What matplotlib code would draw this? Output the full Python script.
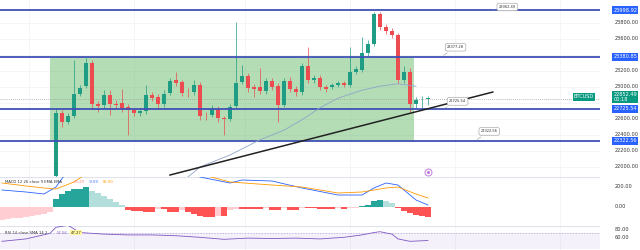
import matplotlib.pyplot as plt
import numpy as np

# candles (price), one per bar index starting at 0
opens = [21888, 22675, 22563, 22638, 22913, 23013, 23300, 22788, 22775, 22900,
         22788, 22800, 22750, 22713, 22675, 22700, 22900, 22875, 22788, 22925,
         23088, 23063, 22925, 22938, 23025, 22656, 22650, 22725, 22613, 22600,
         22763, 23063, 23138, 23000, 23000, 22950, 23075, 23013, 22775, 23075,
         22975, 22938, 23263, 23088, 23113, 23000, 23000, 23025, 23050, 23025,
         23188, 23213, 23425, 23538, 23913, 23750, 23700, 23650, 23088, 23188,
         22788, 22850, 22850]
closes = [22675, 22563, 22638, 22913, 22988, 23300, 22788, 22763, 22900, 22788,
          22775, 22725, 22713, 22675, 22700, 22900, 22863, 22788, 22913, 23075,
          23050, 22925, 22919, 23025, 22638, 22650, 22725, 22613, 22600, 22750,
          23050, 23138, 22988, 22975, 22950, 23075, 23000, 22775, 23075, 22975,
          22938, 23263, 23088, 23113, 23000, 22975, 23025, 23050, 23025, 23188,
          23225, 23425, 23538, 23913, 23750, 23700, 23650, 23088, 23188, 22788,
          22838, 22852, 22863]
highs = [22738, 22713, 22675, 23338, 23025, 23363, 23338, 22825, 22963, 22963,
         22838, 22975, 22788, 22738, 22725, 23025, 22938, 22913, 22963, 23113,
         23188, 23088, 22988, 23088, 23063, 22688, 22775, 22763, 22638, 22788,
         23813, 23275, 23175, 23038, 23238, 23113, 23113, 23050, 23113, 23125,
         23013, 23300, 23500, 23150, 23150, 23025, 23050, 23075, 23075, 23500,
         23263, 23625, 23588, 23938, 23938, 23788, 23738, 23675, 23263, 23238,
         22875, 22888, 22888]
lows = [21860, 22500, 22538, 22613, 22888, 22988, 22738, 22688, 22738, 22650,
        22738, 22688, 22400, 22638, 22638, 22663, 22825, 22738, 22750, 22900,
        23013, 22888, 22875, 22900, 22588, 22588, 22625, 22563, 22400, 22575,
        22738, 23038, 22938, 22875, 22913, 22913, 22963, 22563, 22750, 22938,
        22888, 22900, 23050, 23050, 22963, 22938, 22975, 23000, 23000, 23000,
        23163, 23188, 23388, 23513, 23713, 23663, 23613, 23050, 23050, 22688,
        22738, 22738, 22775]

levels = [23960, 23377, 22725, 22325]
level_labels = ["23998.92", "23380.85", "22725.54", "22322.56"]
callout_text = ["23962.49", "23377.28", "22725.54", "22322.56"]
callout_at = [72.8, 64.2, 64.5, 69.8]
callout_rise = [15, 95, 70, 95]
last_price = 22852.49
price_ticks = [23800, 23600, 23200, 23000, 22600, 22400, 22200, 22000]

zone_x = [-1, 59.6]
zone_y = [22325, 23377]
trend_x = [19, 72.8]
trend_y = [21900, 22937]
ma_x = [22, 24, 29, 34, 38, 41, 44, 47, 51, 54, 57, 60]
ma_y = [21875, 22000, 22150, 22340, 22460, 22590, 22740, 22860, 22960, 23010, 23040, 23010]

hist_x = list(range(-9, 63))
hist_v = [-130, -120, -112, -105, -98, -90, -80, -70, -50,
          80, 130, 160, 180, 180, 200, 160, 140, 110, 80, 50, 20,
          -30, -40, -40, -50, -50, -20, -20, -50, -50, -30, -50,
          -70, -90, -100, -100, -90, -90, -30, -20, -20, -20, -20,
          -20, -10, -30, -30, -10, -30, -30, -10, -10, -10, -20,
          -20, -20, -10, -20, -10, -5, 10, 20, 60, 70, 60, 40,
          -10, -40, -60, -80, -90, -100]
macd_x = [-9, -5, -2, 0, 3, 8, 15, 20, 24, 29, 31, 36, 41, 47, 51, 53, 55, 57, 60, 62]
macd_v = [170, 150, 130, 200, 450, 600, 500, 380, 300, 240, 270, 260, 190, 120, 120, 190, 240, 220, 70, 20]
sig_x = [-9, -5, -2, 0, 3, 8, 15, 20, 24, 29, 36, 41, 47, 51, 55, 57, 60, 62]
sig_v = [240, 210, 190, 180, 250, 450, 520, 420, 330, 250, 220, 200, 140, 150, 190, 200, 130, 90]
rsi_x = [-9, -5, -1, 0, 2, 4, 8, 12, 16, 20, 24, 28, 32, 36, 40, 44, 48, 51, 53, 54, 56, 57, 59, 62]
rsi_v = [50, 56, 70, 85, 90, 72, 68, 66, 66, 64, 60, 55, 58, 57, 58, 56, 60, 66, 72, 74, 68, 56, 50, 52]

GREEN = "#1e9c84"
RED = "#ec4b4f"
BLUE = "#3f51b5"
AXBLUE = "#2962ff"
GRID = "#f2f4f8"

fig = plt.figure(figsize=(6.4, 2.5), dpi=100)
ax = fig.add_axes([0, 0.292, 0.9375, 0.708])
axm = fig.add_axes([0, 0.096, 0.9375, 0.196], sharex=ax)
axr = fig.add_axes([0, 0.0, 0.9375, 0.096], sharex=ax)

for a in (ax, axm, axr):
    a.set_xticks([])
    a.set_yticks([])
    for s in a.spines.values():
        s.set_visible(False)
    for gx in [-4.5, 13, 31.5, 49, 66.5, 84]:
        a.axvline(gx, color=GRID, lw=0.6, zorder=0)
ax.set_xlim(-9.33, 90.67)
ax.set_ylim(21875, 24087.5)
for p in price_ticks + [23400, 22800]:
    ax.axhline(p, color=GRID, lw=0.6, zorder=0)

# zone
ax.fill_between(zone_x, zone_y[0], zone_y[1], color="#4caf50", alpha=0.42, lw=0, zorder=1)

# candles
idx = np.arange(len(opens))
for i in idx:
    o, c, h, l = opens[i], closes[i], highs[i], lows[i]
    col = GREEN if c >= o else RED
    ax.vlines(i, l, h, color=col, lw=0.5, zorder=3)
    ax.bar(i, max(abs(c - o), 6), bottom=min(o, c), width=0.7, color=col, lw=0, zorder=3)

# levels
for lv in levels:
    ax.axhline(lv, color=BLUE, lw=1.3, zorder=4)
ax.axhline(last_price, color="#9aa0a6", lw=0.6, ls=(0, (1, 1.5)), zorder=2)
ax.plot(ma_x, ma_y, color="#90a4c8", lw=0.6, zorder=4)
ax.plot(trend_x, trend_y, color="#222222", lw=1.1, zorder=5, clip_on=False)

for lv, t, cx, dy in zip(levels, callout_text, callout_at, callout_rise):
    ax.annotate(t, xy=(cx, lv), xytext=(cx + 1.0, lv + dy), fontsize=2.6, color="#333333",
                ha="left", va="bottom",
                bbox=dict(boxstyle="round,pad=0.5", fc="white", ec="#999999", lw=0.4),
                arrowprops=dict(arrowstyle="-", color="#999999", lw=0.4), zorder=6,
                annotation_clip=False)

# alert marker
ax.plot(62.0, 21937, marker="o", ms=5, mfc="none", mec="#c27ad8", mew=0.7, zorder=6)
ax.plot(62.0, 21937, marker="o", ms=1.2, color="#c27ad8", zorder=6)

# right price scale
ytr = ax.get_yaxis_transform()
for p in price_ticks:
    ax.text(1.025, p, f"{p:.2f}", transform=ytr, fontsize=3.6, color="#333333", va="center", ha="left")
for lv, t in zip(levels, level_labels):
    ax.text(1.022, lv, t, transform=ytr, fontsize=3.6, color="white", va="center", ha="left",
            bbox=dict(boxstyle="square,pad=0.25", fc=AXBLUE, ec="none"))
ax.text(1.022, last_price + 25, f"{last_price:.2f}\n00:18", transform=ytr, fontsize=3.6, color="white",
        va="center", ha="left", linespacing=1.0,
        bbox=dict(boxstyle="square,pad=0.25", fc="#089981", ec="none"))
ax.text(0.99, last_price + 25, "BTCUSD", transform=ytr, fontsize=3.6, color="white", va="center", ha="right",
        bbox=dict(boxstyle="square,pad=0.25", fc="#089981", ec="none"))

# MACD pane
axm.set_ylim(-190, 300)
hcols = []
for k, v in enumerate(hist_v):
    prev = hist_v[k - 1] if k > 0 else v - 1
    if v >= 0:
        hcols.append("#26a69a" if v >= prev else "#b2dfdb")
    else:
        hcols.append("#ff5252" if v <= prev else "#ffcdd2")
axm.bar(hist_x, hist_v, width=1.0, color=hcols, lw=0, zorder=2)
axm.plot(macd_x, macd_v, color="#2962ff", lw=0.6, zorder=3)
axm.plot(sig_x, sig_v, color="#ff9800", lw=0.6, zorder=3)
axm.axhline(300, color="#e0e3eb", lw=0.8)
mtr = axm.get_yaxis_transform()
for p in [200, 0]:
    axm.text(1.025, p, f"{p:.2f}", transform=mtr, fontsize=3.6, color="#333333", va="center", ha="left")
axm.text(0.009, 0.9, "MACD 12 26 close 9 EMA EMA", transform=axm.transAxes, fontsize=2.7,
         color="#333333", va="center")
axm.text(0.122, 0.9, "-95.49", transform=axm.transAxes, fontsize=2.7, color="#ff8a80", va="center")
axm.text(0.148, 0.9, "-9.59", transform=axm.transAxes, fontsize=2.7, color="#2962ff", va="center")
axm.text(0.171, 0.9, "85.90", transform=axm.transAxes, fontsize=2.7, color="#ff9800", va="center")

# RSI pane
axr.set_ylim(28.3, 88.3)
axr.axhspan(30, 70, color="#7e57c2", alpha=0.08, lw=0)
axr.axhline(70, color="#b0a0d8", lw=0.5, ls=(0, (2, 2)))
axr.axhline(88.3, color="#e0e3eb", lw=0.8)
axr.plot(rsi_x, rsi_v, color="#7e57c2", lw=0.6, zorder=3)
rtr = axr.get_yaxis_transform()
for p in [80, 60]:
    axr.text(1.025, p, f"{p:.2f}", transform=rtr, fontsize=3.6, color="#333333", va="center", ha="left")
axr.text(0.009, 0.72, "RSI 14 close SMA 14 2", transform=axr.transAxes, fontsize=2.7, color="#333333",
         va="center")
axr.text(0.094, 0.72, "52.56", transform=axr.transAxes, fontsize=2.7, color="#7e57c2", va="center")
axr.text(0.118, 0.72, "47.27", transform=axr.transAxes, fontsize=2.7, color="#333333", va="center",
         bbox=dict(boxstyle="square,pad=0.2", fc="#fff59d", ec="none"))

fig.patch.set_facecolor("white")
fig.savefig("out.png", dpi=100)
